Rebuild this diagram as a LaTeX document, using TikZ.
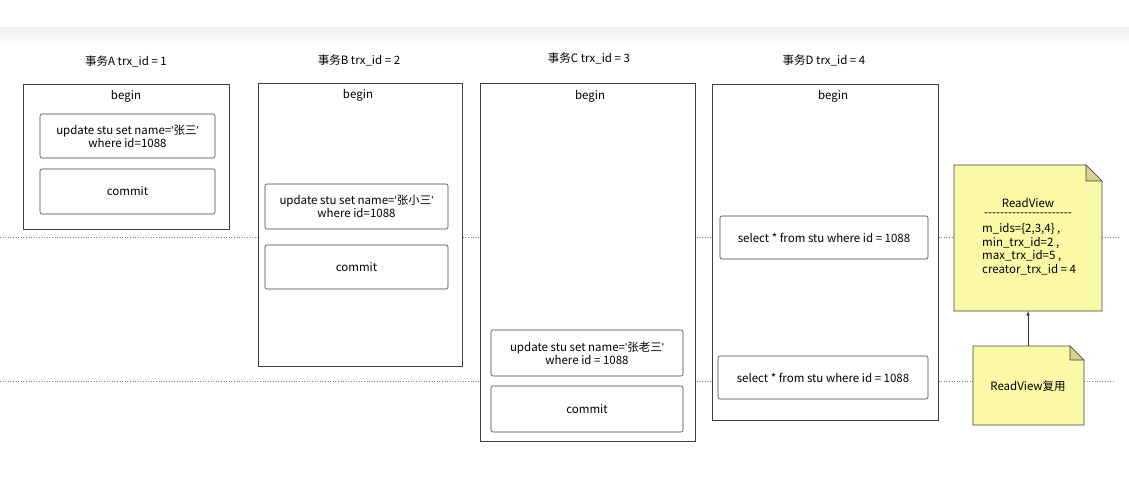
\documentclass[tikz,border=0pt]{standalone}
\usepackage{fontspec}
\setmainfont{Noto Sans CJK SC}
\newfontfamily\latq{Liberation Sans}
\newcommand{\sq}{{\latq\symbol{39}}}
\begin{document}
\begin{tikzpicture}[x=1pt,y=-1pt,font=\fontsize{11.5}{13}\selectfont,
  frame/.style={draw=black!75,line width=0.6pt},
  op/.style={draw=black!75,line width=0.6pt,rounded corners=2pt,align=center},
  note/.style={fill=notey,draw=black!75,line width=0.6pt},
  sep/.style={black!50,dotted,line width=0.6pt}]
\definecolor{notey}{RGB}{250,249,165}
\definecolor{foldy}{RGB}{214,211,140}
\useasboundingbox (0,0) rectangle (1129,497);
\shade[top color=black!6,bottom color=white] (0,28) rectangle (1129,46);
% dotted lines
\draw[sep] (0,237) -- (1120,237);
\draw[sep] (0,381) -- (1115,381);
% titles
\node (tA) at (126,61) {事务A trx\_id = 1};
\node (tB) at (359,60) {事务B trx\_id = 2};
\node (tC) at (589,58) {事务C trx\_id = 3};
\node (tD) at (824,60) {事务D trx\_id = 4};
% frames
\draw[frame,fill=white] (23,84) rectangle (229,229);
\draw[frame,fill=white] (258,83) rectangle (462,366);
\draw[frame,fill=white] (480,83) rectangle (695,441);
\draw[frame,fill=white] (712,84) rectangle (938,420);
\node (bA) at (126,96) {begin};
\node (bB) at (358,95) {begin};
\node (bC) at (590,96) {begin};
\node (bD) at (833,96) {begin};
% ops
\node[op,minimum width=175pt,minimum height=44pt] (a1) at (127.5,136) {update stu set name=\sq 张三\sq\\where id=1088};
\node[op,minimum width=175pt,minimum height=45pt] (a2) at (127.5,191.5) {commit};
\node[op,minimum width=183pt,minimum height=45pt] (b1) at (356.5,206.5) {update stu set name=\sq 张小三\sq\\where id=1088};
\node[op,minimum width=183pt,minimum height=44pt] (b2) at (356.5,267) {commit};
\node[op,minimum width=192pt,minimum height=46pt] (c1) at (587,353) {update stu set name=\sq 张老三\sq\\where id = 1088};
\node[op,minimum width=192pt,minimum height=46pt] (c2) at (587,409) {commit};
\node[op,minimum width=208pt,minimum height=43pt] (d1) at (824,237.5) {select * from stu where id = 1088};
\node[op,minimum width=210pt,minimum height=43pt] (d2) at (823,377.5) {select * from stu where id = 1088};
% notes
\draw[note] (954,165) -- (1086,165) -- (1102,181) -- (1102,311) -- (954,311) -- cycle;
\draw[draw=black!75,fill=foldy,line width=0.6pt] (1086,165) -- (1102,181) -- (1086,181) -- cycle;
\draw[note] (973,346) -- (1070,346) -- (1084,360) -- (1084,425) -- (973,425) -- cycle;
\draw[draw=black!75,fill=foldy,line width=0.6pt] (1070,346) -- (1084,360) -- (1070,360) -- cycle;
\node (rv) at (1028,203) {ReadView};
\node (rvd) at (1028,215) {-{}-{}-{}-{}-{}-{}-{}-{}-{}-{}-{}-{}-{}-{}-{}-{}-{}-{}-{}-{}-{}-};
\node[align=left,anchor=north west,inner sep=0pt,font=\fontsize{11.5}{13.7}\selectfont] (rvt) at (982,223) {m\_ids=\{2,3,4\} ,\\min\_trx\_id=2 ,\\max\_trx\_id=5 ,\\creator\_trx\_id = 4};
\node (ru) at (1028,386) {ReadView复用};
\coordinate (n2top) at (1028,346);
\coordinate (n1bot) at (1028,311);
\draw[-latex,black!80,line width=0.6pt] (n2top) -- (n1bot);
\end{tikzpicture}
\end{document}
